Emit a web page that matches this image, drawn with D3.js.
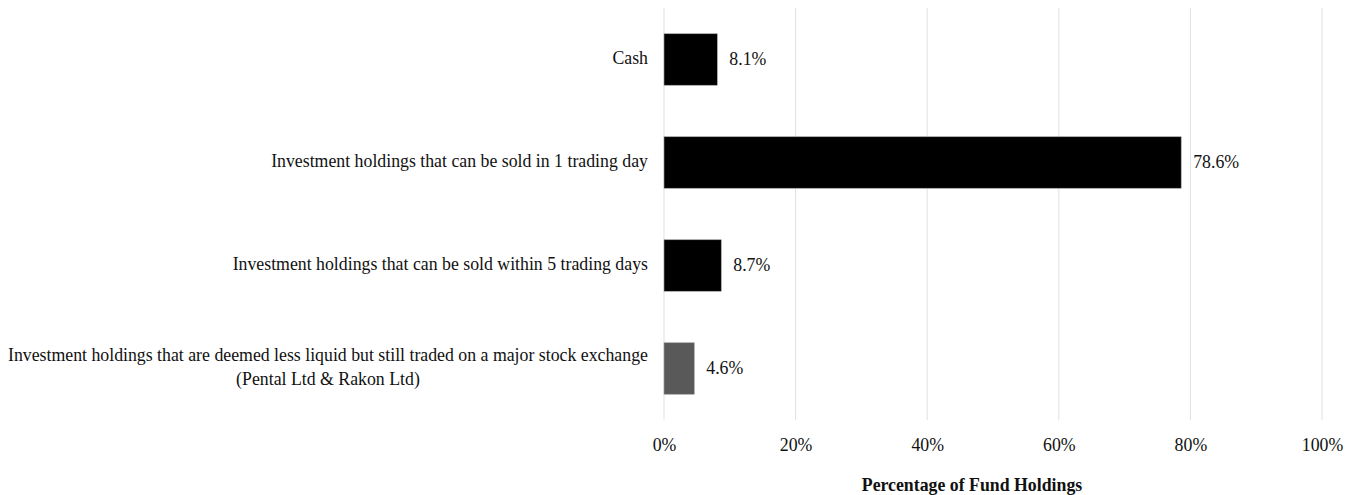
<!DOCTYPE html>
<html><head><meta charset="utf-8">
<script src="https://cdn.jsdelivr.net/npm/d3@7"></script>
<style>body{margin:0;background:#fff;}svg{display:block;}text{font-family:"Liberation Serif",serif;}</style>
</head><body>
<svg id="c" width="1349" height="495"></svg>
<script>
const categories = [
  ["Cash"],
  ["Investment holdings that can be sold in 1 trading day"],
  ["Investment holdings that can be sold within 5 trading days"],
  ["Investment holdings that are deemed less liquid but still traded on a major stock exchange", "(Pental Ltd & Rakon Ltd)"]
];
const values = [8.1, 78.6, 8.7, 4.6];
const barColors = ["#000000", "#000000", "#000000", "#595959"];
const tickValues = [0, 20, 40, 60, 80, 100];
const axisTitle = "Percentage of  Fund Holdings";

const FS = 17.8;
const svg = d3.select("#c");
const m = {left: 664, right: 27, top: 8, bottom: 75};
const W = 1349, H = 495;
const x = d3.scaleLinear().domain([0, 100]).range([m.left, W - m.right]);
const y = d3.scaleBand().domain(d3.range(categories.length)).range([m.top, H - m.bottom]).paddingInner(0.5).paddingOuter(0.25);

// gridlines
svg.append("g").selectAll("line").data(tickValues).join("line")
  .attr("x1", d => x(d)).attr("x2", d => x(d))
  .attr("y1", m.top).attr("y2", H - m.bottom)
  .attr("stroke", "#dde1e8").attr("stroke-width", 1);

// tick labels
const ax = d3.axisBottom(x).tickValues(tickValues).tickFormat(d => d + "%").tickSize(0).tickPadding(0);
const gx = svg.append("g").attr("transform", `translate(0,${H - m.bottom + 18})`).call(ax);
gx.select(".domain").remove();
gx.selectAll("text").attr("font-family", "Liberation Serif, serif").attr("font-size", FS).attr("fill", "#111").attr("dy", "0.71em");

// bars
svg.append("g").selectAll("rect").data(values).join("rect")
  .attr("x", x(0)).attr("y", (d, i) => y(i))
  .attr("width", d => x(d) - x(0)).attr("height", y.bandwidth())
  .attr("fill", (d, i) => barColors[i])
  .attr("stroke", "#a0a0a0").attr("stroke-width", 0.6);

// value labels
svg.append("g").selectAll("text").data(values).join("text")
  .attr("x", d => x(d) + 12).attr("y", (d, i) => y(i) + y.bandwidth() / 2)
  .attr("dy", "0.3em").attr("font-size", FS).attr("fill", "#111")
  .text(d => d.toFixed(1) + "%");

// category labels
const cl = svg.append("g").selectAll("text").data(categories).join("text")
  .attr("text-anchor", "middle").attr("font-size", FS).attr("fill", "#111")
  .attr("y", (d, i) => y(i) + y.bandwidth() / 2);
cl.each(function(lines, i) {
  const t = d3.select(this);
  const n = lines.length;
  lines.forEach((s, k) => {
    t.append("tspan").attr("x", 0).attr("dy", k === 0 ? ((0.25 - (n - 1) * 0.66) + "em") : "1.34em").text(s);
  });
});
cl.each(function() {
  const w = this.getBBox().width;
  d3.select(this).selectAll("tspan").attr("x", 648 - w / 2);
});

// axis title
svg.append("text").attr("x", 972).attr("y", 491)
  .attr("text-anchor", "middle").attr("font-size", FS).attr("font-weight", "bold").attr("fill", "#111")
  .text(axisTitle);
</script>
</body></html>
